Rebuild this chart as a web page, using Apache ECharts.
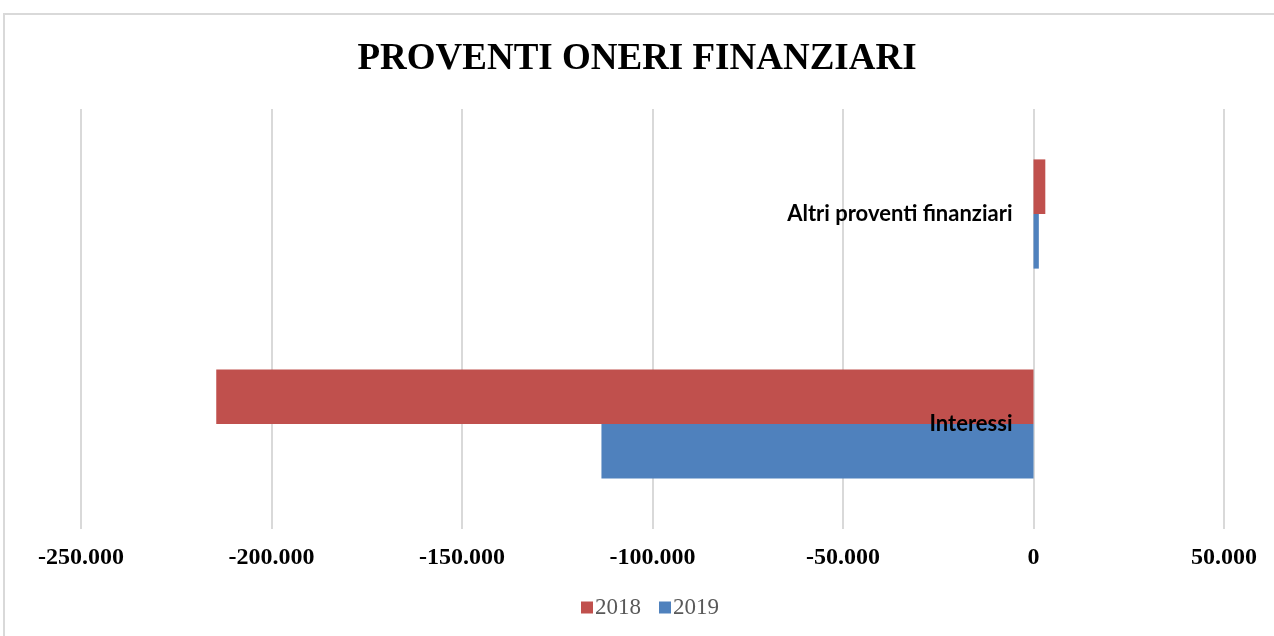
<!DOCTYPE html>
<html>
<head>
<meta charset="utf-8">
<script src="https://cdn.jsdelivr.net/npm/echarts@6/dist/echarts.min.js"></script>
<style>
  html, body { margin: 0; padding: 0; background: #fff; }
  #chart { width: 1274px; height: 636px; }
</style>
</head>
<body>
<div id="chart"></div>
<script>
// categorie (dal basso verso l'alto)
var categories = ['Interessi', 'Altri proventi finanziari'];
var years = ['2018', '2019'];
var values2018 = [-214500, 3100];
var values2019 = [-113400, 1400];
var xTicks = { min: -250000, max: 50000, step: 50000 };

// formato italiano: separatore migliaia '.'
function fmt(v) {
  var s = Math.abs(v).toString().replace(/\B(?=(\d{3})+(?!\d))/g, '.');
  return (v < 0 ? '-' : '') + s;
}

var gridLeft = 81, gridRight = 50;
var chartW = 1274;
// l'asse delle categorie sta sullo zero dell'asse x
var zeroOffset = -(chartW - gridLeft - gridRight) * (0 - xTicks.min) / (xTicks.max - xTicks.min);

var chart = echarts.init(document.getElementById('chart'));

var option = {
  backgroundColor: '#ffffff',
  color: ['#C0504D', '#4F81BD'],
  animation: false,
  title: {
    text: 'PROVENTI ONERI FINANZIARI',
    left: 'center',
    top: 36,
    textStyle: {
      fontFamily: 'Liberation Serif',
      fontWeight: 'bold',
      fontSize: 37,
      color: '#000'
    }
  },
  graphic: [{
    type: 'rect',
    shape: { x: 4, y: 14, width: 1300, height: 700 },
    style: { fill: 'none', stroke: '#D9D9D9', lineWidth: 2 },
    silent: true
  }],
  legend: {
    data: years,
    bottom: 12,
    left: 576,
    icon: 'rect',
    itemWidth: 12,
    itemHeight: 12,
    itemGap: 18,
    textStyle: {
      fontFamily: 'Liberation Serif',
      fontSize: 23,
      color: '#595959',
      padding: [0, 0, 0, -3]
    }
  },
  grid: {
    left: gridLeft,
    right: gridRight,
    top: 109,
    bottom: 107,
    containLabel: false,
    outerBoundsMode: 'none'
  },
  xAxis: {
    type: 'value',
    min: xTicks.min,
    max: xTicks.max,
    interval: xTicks.step,
    axisLine: { show: false },
    axisTick: { show: false },
    splitLine: { show: true, lineStyle: { color: '#D9D9D9', width: 2 } },
    axisLabel: {
      margin: 17,
      fontFamily: 'Liberation Serif',
      fontWeight: 'bold',
      fontSize: 24,
      color: '#000',
      formatter: fmt
    }
  },
  yAxis: {
    type: 'category',
    data: categories,
    offset: zeroOffset,
    z: 10,
    axisLine: { show: false, onZero: false },
    axisTick: { show: false },
    splitLine: { show: false },
    axisLabel: {
      margin: 21,
      fontFamily: 'Lato',
      fontWeight: 'bold',
      fontSize: 22,
      color: '#000'
    }
  },
  series: [
    {
      name: years[0],
      type: 'bar',
      data: values2018,
      barGap: '0%',
      barCategoryGap: '48%'
    },
    {
      name: years[1],
      type: 'bar',
      data: values2019,
      barGap: '0%',
      barCategoryGap: '48%'
    }
  ]
};

chart.setOption(option);
</script>
</body>
</html>
